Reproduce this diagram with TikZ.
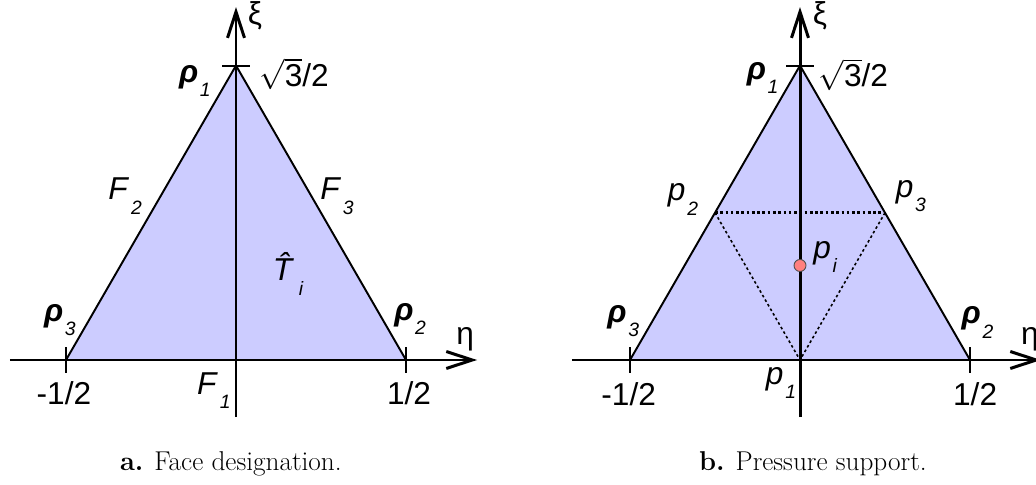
\documentclass[tikz,border=0pt]{standalone}
\usepackage{fontspec}
\setsansfont{Liberation Sans}
\usetikzlibrary{arrows.meta}
\definecolor{Face}{HTML}{CCCCFF}
\definecolor{Dot}{HTML}{FF7F7F}
\definecolor{Ink}{HTML}{000000}
\newcommand\idx[2]{#1\kern1pt\raisebox{-0.45em}{\fontsize{11}{11}\selectfont\itshape #2}}
\newcommand\rhoi[1]{\idx{\textbf{\textit{ρ}}}{#1}}

\begin{document}
\begin{tikzpicture}[x=6.8cm,y=6.8cm,font=\sffamily\fontsize{18}{21}\selectfont, axis/.style={line width=1.7pt,draw=Ink,-{Straight Barb[length=5.2mm,width=3.4mm,line width=1.7pt]}}, edge/.style={line width=1.1pt,draw=Ink}, tickmark/.style={line width=1.1pt,draw=Ink}, lbl/.style={inner sep=0pt,text=Ink}, caption/.style={inner sep=0pt,font=\rmfamily\fontsize{15.5}{18}\selectfont}, support/.style={draw=Ink,dash pattern=on 1.5pt off 1.5pt}]
\useasboundingbox (-0.6941,-0.3647) rectangle (2.3529,1.0588);
% a. face designation
\coordinate (aO) at (0,0);\coordinate (aR1) at (0,{sqrt(3)/2});\coordinate (aR2) at (0.5,0);\coordinate (aR3) at (-0.5,0);
\coordinate (aXs) at (-0.665,0);\coordinate (aXe) at (0.709,0);\coordinate (aYs) at (0,-0.168);\coordinate (aYe) at (0,1.038);
\fill[Face] (aR1)--(aR2)--(aR3)--cycle;
\draw[edge] (aR3)--(aR1)--(aR2);
\draw[axis] (aXs)--(aXe);\draw[axis] (aYs)--(aYe);
\draw[tickmark] ([xshift=-0.041*6.8cm]aR1)--([xshift=0.041*6.8cm]aR1);
\draw[tickmark] ([yshift=-0.038*6.8cm]aR3)--([yshift=0.038*6.8cm]aR3);\draw[tickmark] ([yshift=-0.038*6.8cm]aR2)--([yshift=0.038*6.8cm]aR2);
\node[lbl] (aXi) at (0.056,1.012) {ξ};\node[lbl] (aEta) at (0.674,0.062) {η};
\node[lbl] (aTop) at (0.171,0.841) {$\sqrt{\hbox{3}}$/2};\node[lbl] (aLo) at (-0.506,-0.097) {-1/2};\node[lbl] (aHi) at (0.509,-0.097) {1/2};
\node[lbl] (aP1) at (-0.121,0.82) {\rhoi{1}};\node[lbl] (aP2) at (0.512,0.121) {\rhoi{2}};\node[lbl] (aP3) at (-0.518,0.118) {\rhoi{3}};
\node[lbl] (aF1) at (-0.065,-0.091) {\idx{\textit{F}}{1}};\node[lbl] (aF2) at (-0.326,0.482) {\idx{\textit{F}}{2}};\node[lbl] (aF3) at (0.297,0.482) {\idx{\textit{F}}{3}};
\node[lbl] (aT) at (0.153,0.253) {\idx{\textit{\^T}}{i}};
\node[caption] (aCap) at (-0.015,-0.306) {\textbf{a.} Face designation.};
% b. pressure support
\begin{scope}[xshift=1.6588*6.8cm]
\coordinate (bO) at (0,0);\coordinate (bR1) at (0,{sqrt(3)/2});\coordinate (bR2) at (0.5,0);\coordinate (bR3) at (-0.5,0);
\coordinate (bXs) at (-0.671,0);\coordinate (bXe) at (0.709,0);\coordinate (bYs) at (0,-0.168);\coordinate (bYe) at (0,1.038);
\coordinate (bM2) at (-0.25,{sqrt(3)/4});\coordinate (bM3) at (0.25,{sqrt(3)/4});
\fill[Face] (bR1)--(bR2)--(bR3)--cycle;
\draw[edge] (bR3)--(bR1)--(bR2);
\draw[support,line width=1.5pt] (bM2)--(bM3);\draw[support,line width=0.9pt] (bM2)--(bO)--(bM3);
\draw[axis] (bXs)--(bXe);\draw[axis] (bYs)--(bYe);
\draw[tickmark] ([xshift=-0.041*6.8cm]bR1)--([xshift=0.041*6.8cm]bR1);
\draw[tickmark] ([yshift=-0.038*6.8cm]bR3)--([yshift=0.038*6.8cm]bR3);\draw[tickmark] ([yshift=-0.038*6.8cm]bR2)--([yshift=0.038*6.8cm]bR2);
\node[circle,fill=Dot,draw=Ink!70,line width=0.5pt,minimum size=2.4mm,inner sep=0pt] (bPi) at (0,0.278) {};
\node[lbl] (bXi) at (0.059,1.012) {ξ};\node[lbl] (bEta) at (0.676,0.062) {η};
\node[lbl] (bTop) at (0.157,0.84) {$\sqrt{\hbox{3}}$/2};\node[lbl] (bLo) at (-0.504,-0.1) {-1/2};\node[lbl] (bHi) at (0.515,-0.1) {1/2};
\node[lbl] (bP1) at (-0.11,0.83) {\rhoi{1}};\node[lbl] (bP2) at (0.522,0.11) {\rhoi{2}};\node[lbl] (bP3) at (-0.52,0.115) {\rhoi{3}};
\node[lbl] (bQ1) at (-0.056,-0.068) {\idx{\textit{p}}{1}};\node[lbl] (bQ2) at (-0.344,0.472) {\idx{\textit{p}}{2}};\node[lbl] (bQ3) at (0.326,0.482) {\idx{\textit{p}}{3}};
\node[lbl] (bQi) at (0.074,0.302) {\idx{\textit{p}}{i}};
\node[caption] (bCap) at (0.038,-0.306) {\textbf{b.} Pressure support.};
\end{scope}
\end{tikzpicture}
\end{document}
